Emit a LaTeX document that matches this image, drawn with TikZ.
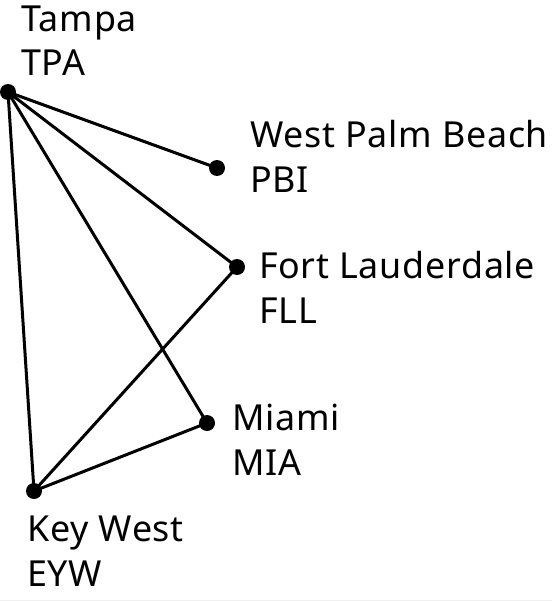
\documentclass[tikz,border=0pt]{standalone}
\usepackage{fontspec}
\setmainfont{Noto Sans}[LetterSpace=2]
\usetikzlibrary{positioning}

\begin{document}
\begin{tikzpicture}[x=1bp, y=-1bp,
    airport/.style={circle, fill=black, inner sep=0pt, minimum size=16bp},
    route/.style={line width=3bp},
    city/.style={anchor=base west, align=left, inner sep=0pt,
      font=\fontsize{36}{45}\selectfont}]
  \useasboundingbox (0, 0) rectangle (552, 601);
  \draw[black!6, line width=1bp] (0, 600) -- (552, 600);

  % airports
  \node[airport] (tpa) at (8, 92) {};
  \node[airport] (pbi) at (217, 168) {};
  \node[airport] (fll) at (237, 267) {};
  \node[airport] (mia) at (207, 423) {};
  \node[airport] (eyw) at (34, 491) {};

  % routes
  \draw[route] (tpa.center) -- (pbi.center);
  \draw[route] (tpa.center) -- (fll.center);
  \draw[route] (tpa.center) -- (mia.center);
  \draw[route] (tpa.center) -- (eyw.center);
  \draw[route] (fll.center) -- (eyw.center);
  \draw[route] (mia.center) -- (eyw.center);

  % names (anchored on the baseline of the code line)
  \node[city] (tpa-name) at (21, 76) {Tampa\\TPA};
  \node[city] (pbi-name) at (250, 192) {West Palm Beach\\PBI};
  \node[city] (fll-name) at (259, 323) {Fort Lauderdale\\FLL};
  \node[city] (mia-name) at (232, 475) {Miami\\MIA};
  \node[city] (eyw-name) at (27, 586) {Key West\\EYW};
\end{tikzpicture}
\end{document}
